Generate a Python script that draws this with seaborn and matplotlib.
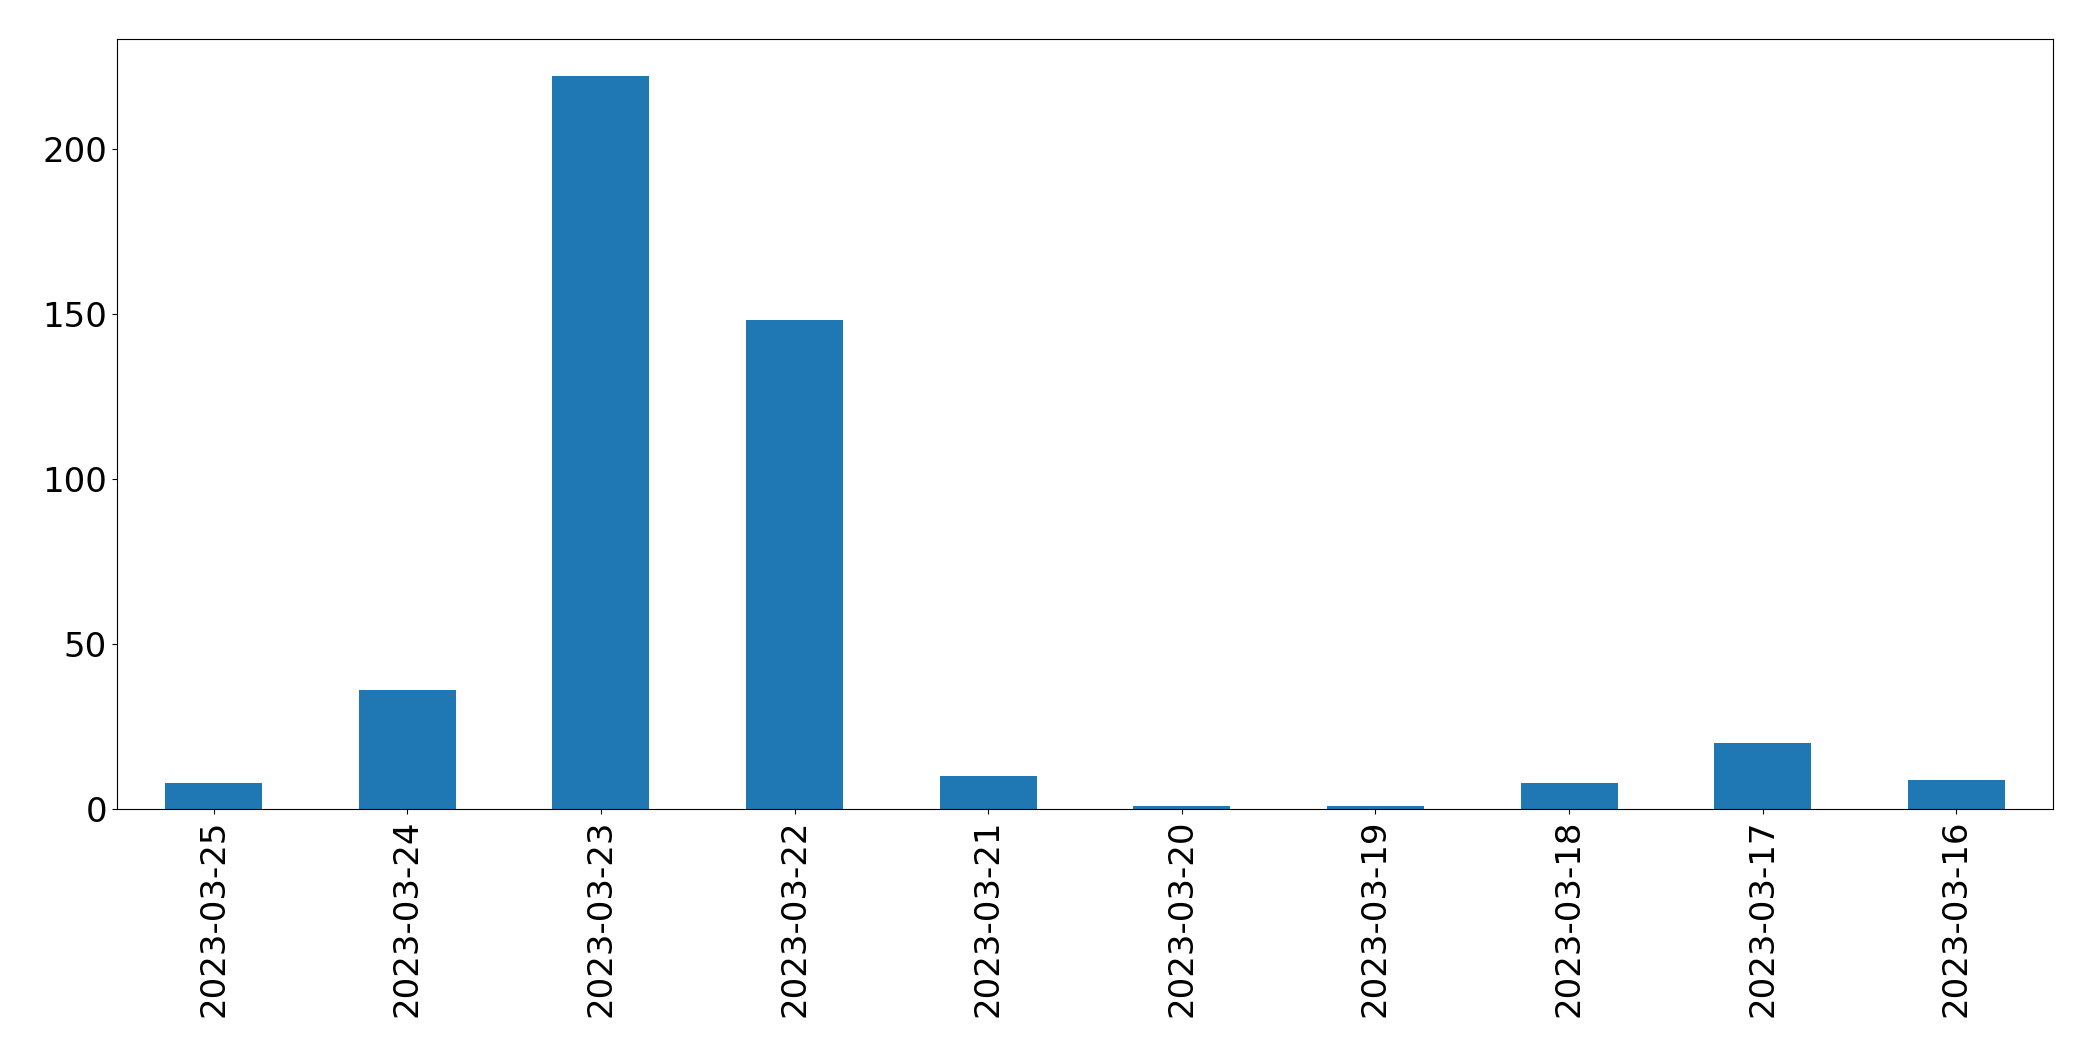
import matplotlib
matplotlib.use("Agg")
import matplotlib.pyplot as plt
import pandas as pd
import seaborn as sns

dates = [
    "2023-03-25", "2023-03-24", "2023-03-23", "2023-03-22", "2023-03-21",
    "2023-03-20", "2023-03-19", "2023-03-18", "2023-03-17", "2023-03-16",
]
counts = [8, 36, 222, 148, 10, 1, 1, 8, 20, 9]

df = pd.DataFrame({"date": dates, "count": counts})

fig, ax = plt.subplots(figsize=(20.93, 10.61), dpi=100)
fig.subplots_adjust(left=0.0558, right=0.981, top=0.963, bottom=0.2372)
sns.barplot(data=df, x="date", y="count", order=dates, color="#1f77b4",
            saturation=1, width=0.5, ax=ax)
ax.set_xlim(-0.5, len(dates) - 0.5)
ax.set_ylim(0, max(counts) * 1.05)
ax.set_xlabel("")
ax.set_ylabel("")
ax.tick_params(axis="both", labelsize=24.5)
ax.tick_params(axis="x", labelrotation=90)
plt.savefig("out.png", dpi=100)
plt.close()
